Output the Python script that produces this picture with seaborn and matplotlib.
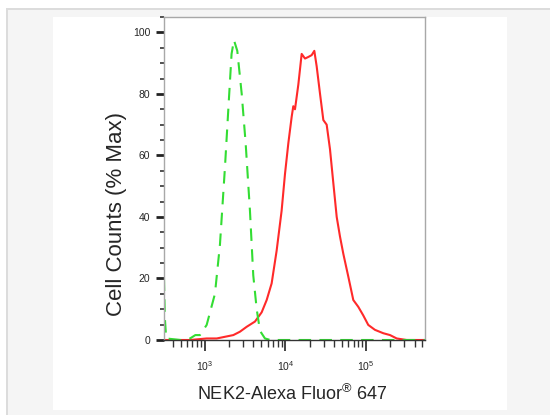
import matplotlib
matplotlib.use("Agg")
import matplotlib.pyplot as plt
import matplotlib.ticker as mticker
from matplotlib.patches import Rectangle
import pandas as pd
import seaborn as sns

# isotype control (green, dashed)
ctrl_x = [310, 318, 330, 500, 652, 760, 867, 1050, 1330, 1535, 1770, 1950, 2140, 2290,
          2520, 2860, 3200, 3620, 3980, 4390, 4820, 5560, 6500, 540000]
ctrl_y = [20, 7, 0.5, 0, 0.5, 1.6, 1.6, 4.9, 15, 31, 56, 75, 93, 97.5,
          94, 80, 64, 42, 21, 10, 3, 0.5, 0, 0]

# NEK2 stained sample (red, solid)
nek2_x = [310, 650, 1050, 1400, 2250, 2720, 3300, 4180, 5060, 5840, 6730, 7760, 8950,
          9860, 10850, 11940, 12500, 13120, 14430, 15880, 17470, 19190, 21130, 22800,
          24380, 26850, 29510, 32460, 35700, 39270, 43250, 47530, 52270, 60260, 69500,
          80100, 92400, 106600, 129100, 164000, 198600, 240400, 320000, 540000]
nek2_y = [0, 0, 0.5, 0.5, 1.6, 2.7, 4.3, 6, 9, 13, 18.4, 29, 42,
          54, 64, 72.6, 76, 75, 83, 93, 91.5, 92, 92.6, 94,
          89, 80, 71.5, 70, 62, 51, 40, 33.6, 28, 20.6, 13,
          10.8, 8, 4.9, 3.3, 2.2, 1.6, 0.5, 0, 0]

df_ctrl = pd.DataFrame({"intensity": ctrl_x, "pct": ctrl_y})
df_nek2 = pd.DataFrame({"intensity": nek2_x, "pct": nek2_y})

sns.set_style("ticks")
plt.rcParams['font.family'] = ['Liberation Sans', 'DejaVu Sans']
plt.rcParams['mathtext.fontset'] = 'custom'
plt.rcParams['mathtext.rm'] = 'Liberation Sans'

fig = plt.figure(figsize=(5.5, 4.15), dpi=100)
W, H = 550, 415
# page background like the source screenshot
fig.patches.append(Rectangle((8 / W, 0), 1, 1 - 10 / H, transform=fig.transFigure,
                             facecolor="#f5f5f5", edgecolor="none", zorder=-3))
fig.patches.append(Rectangle((7 / W, 1 - 10 / H), 1, 2 / H, transform=fig.transFigure,
                             facecolor="#dcdcdc", edgecolor="none", zorder=-2))
fig.patches.append(Rectangle((6 / W, 0), 2 / W, 1 - 8 / H, transform=fig.transFigure,
                             facecolor="#dcdcdc", edgecolor="none", zorder=-2))
fig.patches.append(Rectangle((53 / W, 1 - 410 / H), (507 - 53) / W, (410 - 17) / H,
                             transform=fig.transFigure, facecolor="white",
                             edgecolor="none", zorder=-1))

ax = fig.add_axes([164 / W, 1 - 340 / H, (425 - 164) / W, (340 - 17) / H])
ax.set_xscale("log")

sns.lineplot(data=df_nek2, x="intensity", y="pct", ax=ax, color="#ff2a2a",
             linewidth=1.5, estimator=None, sort=False)
sns.lineplot(data=df_ctrl, x="intensity", y="pct", ax=ax, color="#33dd33",
             linewidth=1.5, estimator=None, sort=False, dashes=False)
ax.lines[-1].set_dashes([6, 4])

ax.set_xlim(310, 540000)
ax.set_ylim(0, 105)

ax.yaxis.set_major_locator(mticker.MultipleLocator(20))
ax.yaxis.set_minor_locator(mticker.MultipleLocator(5))
ax.xaxis.set_major_locator(mticker.LogLocator(base=10, numticks=10))
ax.xaxis.set_minor_locator(mticker.LogLocator(base=10, subs=range(2, 10), numticks=20))
ax.xaxis.set_minor_formatter(mticker.NullFormatter())

ax.tick_params(axis="y", which="major", length=6, width=2, color="#222222",
               labelsize=7.5, pad=4)
ax.tick_params(axis="y", which="minor", length=3, width=1.2, color="#333333")
ax.tick_params(axis="x", which="major", length=8, width=1.2, color="#222222",
               labelsize=7.5, pad=6)
ax.tick_params(axis="x", which="minor", length=5, width=1, color="#333333")

for s in ["top", "right", "left"]:
    ax.spines[s].set_color("#a8a8a8")
    ax.spines[s].set_linewidth(1)
ax.spines["bottom"].set_color("#333333")
ax.spines["bottom"].set_linewidth(1)

ax.set_ylabel("Cell Counts (% Max)", fontsize=16)
ax.yaxis.set_label_coords(-0.14, 0.39)
ax.set_xlabel("NEK2-Alexa Fluor$^{\u00ae}$ 647", fontsize=13)
ax.xaxis.set_label_coords(0.49, -0.135)

fig.savefig("out.png", dpi=100)
